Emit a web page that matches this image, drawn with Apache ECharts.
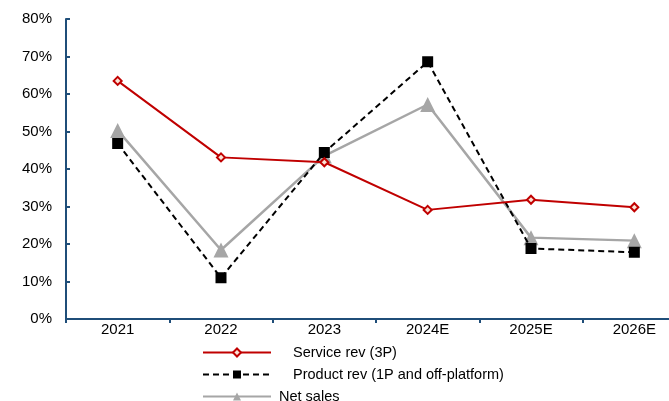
<!DOCTYPE html>
<html><head><meta charset="utf-8">
<script src="https://cdn.jsdelivr.net/npm/echarts@6/dist/echarts.min.js"></script>
<style>html,body{margin:0;padding:0;background:#fff;overflow:hidden;width:669px;height:401px}#c{width:686px;height:401px}</style>
</head><body><div id="c"></div>
<script>
const categories = ['2021','2022','2023','2024E','2025E','2026E'];
const serviceRev = [63.5, 43.1, 41.8, 29.1, 31.8, 29.8];
const productRev = [46.8, 11.0, 44.4, 68.6, 18.8, 17.8];
const netSales = [50.3, 18.4, 43.5, 57.2, 21.7, 20.9];
const yTicks = [0, 80, 10];

const font = 'Liberation Sans, Arial, sans-serif';
const fs = 15;
const chart = echarts.init(document.getElementById('c'), null, {renderer:'canvas'});
function leg(name, top, pad){
  return {orient:'vertical', left:197, top:top, itemWidth:68, itemHeight:10, data:[name],
    textStyle:{fontFamily:font, fontSize:14.5, color:'#000', padding:[0,0,0,pad]}};
}
chart.setOption({
  animation:false,
  grid:{left:66, top:19, bottom:82, right:0},
  xAxis:{type:'category', data:categories, boundaryGap:true,
    axisLine:{lineStyle:{color:'#1F4E79', width:2}},
    axisTick:{show:true, length:4, lineStyle:{color:'#1F4E79', width:2}},
    axisLabel:{color:'#000', fontFamily:font, fontSize:fs, margin:3}},
  yAxis:{type:'value', min:yTicks[0], max:yTicks[1], interval:yTicks[2],
    splitLine:{show:false},
    axisLine:{show:true, lineStyle:{color:'#1F4E79', width:2}},
    axisTick:{show:true, inside:true, length:4, lineStyle:{color:'#1F4E79', width:2}},
    axisLabel:{color:'#000', fontFamily:font, fontSize:fs, margin:14, formatter:v=>v+'%'}},
  legend:[
    leg('Service rev (3P)', 340, 17),
    leg('Product rev (1P and off-platform)', 362, 17),
    leg('Net sales', 384, 3)
  ],
  series:[
    {name:'Service rev (3P)', type:'line', data:serviceRev, symbol:'diamond', symbolSize:8,
     lineStyle:{color:'#C00000', width:2}, itemStyle:{color:'#FBE3D6', borderColor:'#C00000', borderWidth:2}, z:3},
    {name:'Product rev (1P and off-platform)', type:'line', data:productRev, symbol:'rect', symbolSize:11,
     lineStyle:{color:'#000', width:2, type:[6,4]}, itemStyle:{color:'#000'}, z:2},
    {name:'Net sales', type:'line', data:netSales, symbol:'triangle', symbolSize:15,
     lineStyle:{color:'#A6A6A6', width:2.5}, itemStyle:{color:'#A6A6A6'}, z:1}
  ]
});
</script></body></html>
